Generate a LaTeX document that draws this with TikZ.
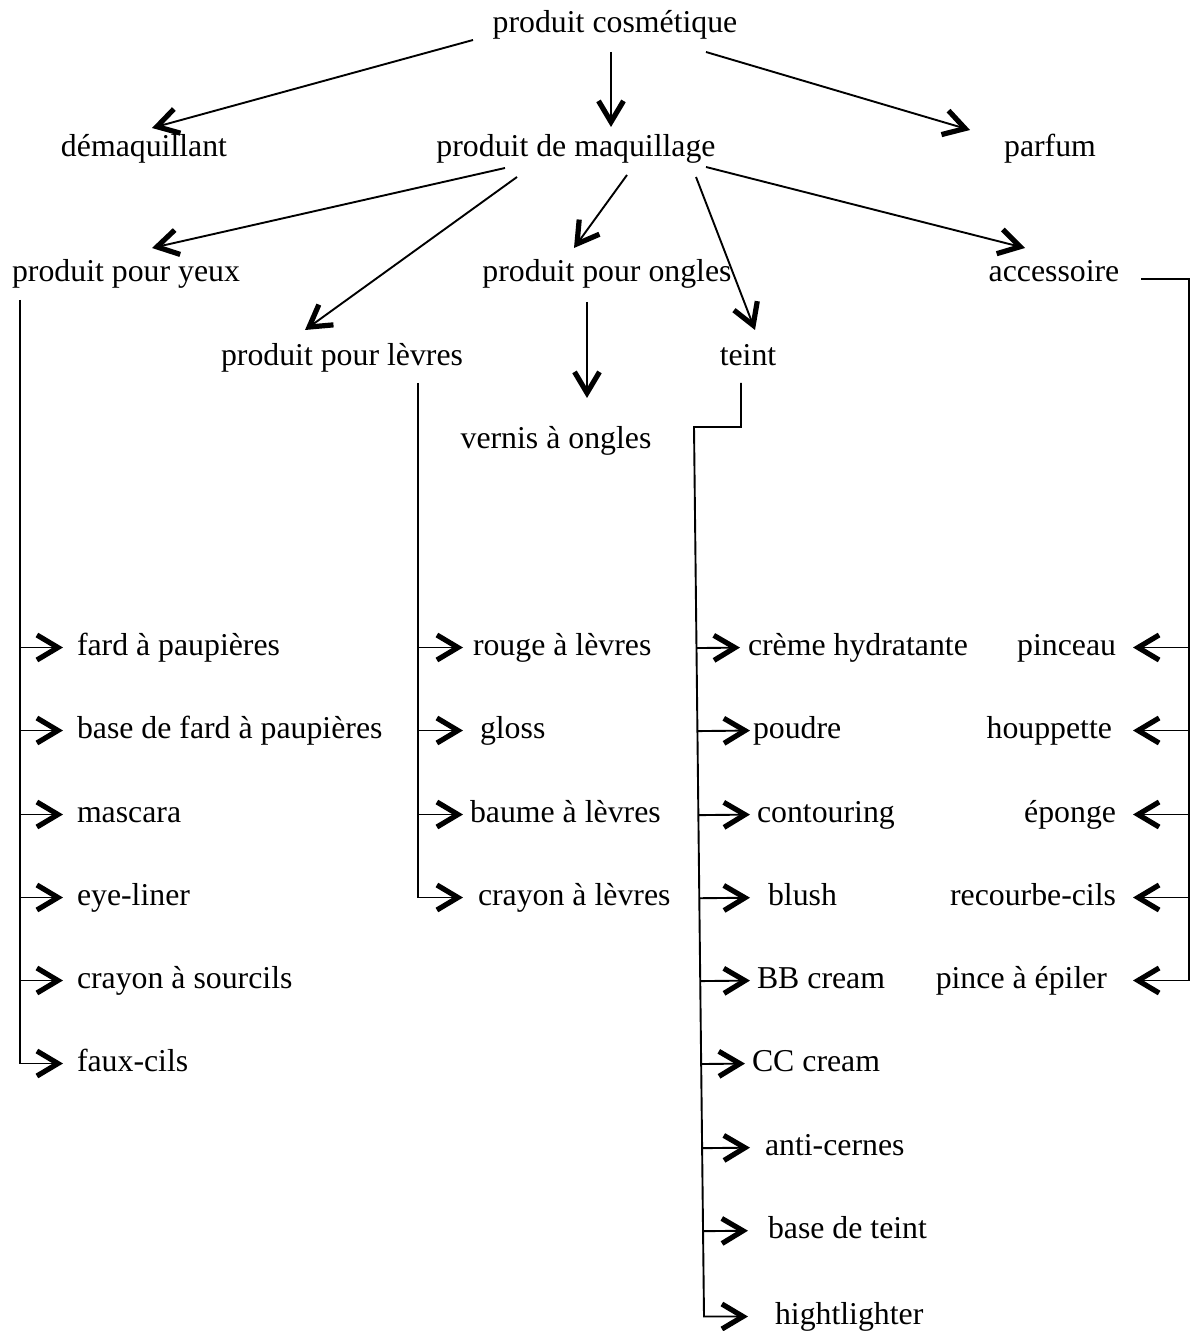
\documentclass[tikz,border=0pt]{standalone}
\usepackage{fontspec}
\setmainfont{Liberation Serif}
\usetikzlibrary{arrows.meta,calc}
\begin{document}
\begin{tikzpicture}[x=0.5pt,y=-0.5pt,
  lbl/.style={inner sep=0pt, outer sep=0pt, font=\fontsize{15.9pt}{19pt}\selectfont, text height=11pt, text depth=3.5pt},
  conn/.style={line width=0.95pt, line join=miter},
  arr/.style={conn, -{Straight Barb[length=10.5pt,width=12.5pt,line width=2.6pt]}}]
\path[use as bounding box] (0,0) rectangle (1190,1331);

% ---- top levels
\node[lbl, anchor=base] (cosm)   at (615,33)  {produit cosmétique};
\node[lbl, anchor=base] (demaq)  at (144,157) {démaquillant};
\node[lbl, anchor=base] (maq)    at (576,157) {produit de maquillage};
\node[lbl, anchor=base] (parfum) at (1050,157) {parfum};
\node[lbl, anchor=base] (yeux)   at (126,282) {produit pour yeux};
\node[lbl, anchor=base] (ongles) at (607,282) {produit pour ongles};
\node[lbl, anchor=base] (access) at (1054,282) {accessoire};
\node[lbl, anchor=base] (levres) at (342,366) {produit pour lèvres};
\node[lbl, anchor=base] (teint)  at (748,366) {teint};
\node[lbl, anchor=base] (vernis) at (556,448) {vernis à ongles};

% ---- yeux items
\node[lbl, anchor=base west] (y1) at (77,655)  {fard à paupières};
\node[lbl, anchor=base west] (y2) at (77,738)  {base de fard à paupières};
\node[lbl, anchor=base west] (y3) at (77,822)  {mascara};
\node[lbl, anchor=base west] (y4) at (77,905)  {eye-liner};
\node[lbl, anchor=base west] (y5) at (77,988)  {crayon à sourcils};
\node[lbl, anchor=base west] (y6) at (77,1071) {faux-cils};

% ---- lèvres items
\node[lbl, anchor=base west] (l1) at (473,655) {rouge à lèvres};
\node[lbl, anchor=base west] (l2) at (480,738) {gloss};
\node[lbl, anchor=base west] (l3) at (470,822) {baume à lèvres};
\node[lbl, anchor=base west] (l4) at (478,905) {crayon à lèvres};

% ---- teint items
\node[lbl, anchor=base west] (t1) at (748,655)  {crème hydratante};
\node[lbl, anchor=base west] (t2) at (753,738)  {poudre};
\node[lbl, anchor=base west] (t3) at (757,822)  {contouring};
\node[lbl, anchor=base west] (t4) at (768,905)  {blush};
\node[lbl, anchor=base west] (t5) at (757,988)  {BB cream};
\node[lbl, anchor=base west] (t6) at (752,1071) {CC cream};
\node[lbl, anchor=base west] (t7) at (765,1155) {anti-cernes};
\node[lbl, anchor=base west] (t8) at (768,1238) {base de teint};
\node[lbl, anchor=base west] (t9) at (775,1324) {hightlighter};

% ---- accessoire items
\node[lbl, anchor=base east] (a1) at (1116,655) {pinceau};
\node[lbl, anchor=base east] (a2) at (1112,738) {houppette};
\node[lbl, anchor=base east] (a3) at (1116,822) {éponge};
\node[lbl, anchor=base east] (a4) at (1116,905) {recourbe-cils};
\node[lbl, anchor=base east] (a5) at (1107,988) {pince à épiler};

% ---- top arrows
\draw[arr] ($(cosm.base)+(-142,7)$) -- ($(demaq.base)+(8,-29)$);
\draw[arr] ($(cosm.base)+(-4,19)$)  -- ($(maq.base)+(35,-30)$);
\draw[arr] ($(cosm.base)+(91,19)$)  -- ($(parfum.base)+(-80,-27)$);
\draw[arr] ($(maq.base)+(-71,11)$)  -- ($(yeux.base)+(26,-34)$);
\draw[arr] ($(maq.base)+(-59,20)$)  -- ($(levres.base)+(-37,-36)$);
\draw[arr] ($(maq.base)+(51,18)$)   -- ($(ongles.base)+(-33,-34)$);
\draw[arr] ($(maq.base)+(120,20)$)  -- ($(teint.base)+(7,-36)$);
\draw[arr] ($(maq.base)+(130,10)$)  -- ($(access.base)+(-29,-34)$);
\draw[arr] ($(ongles.base)+(-20,20)$) -- ($(vernis.base)+(31,-50)$);

% ---- yeux trunk
\coordinate (ytop) at ($(yeux.base)+(-106,18)$);
\draw[arr, shorten >=7pt] (ytop) |- (y6.west);
\foreach \n in {y1,y2,y3,y4,y5}
  \draw[arr, shorten >=7pt] (ytop |- \n.west) -- (\n.west);

% ---- lèvres trunk
\coordinate (ltop) at ($(levres.base)+(76,17)$);
\draw[arr, shorten >=7.5pt] (ltop) |- (l4.west);
\draw[arr, shorten >=5pt]   (ltop |- l1.west) -- (l1.west);
\draw[arr, shorten >=8.5pt] (ltop |- l2.west) -- (l2.west);
\draw[arr, shorten >=3.5pt] (ltop |- l3.west) -- (l3.west);

% ---- teint trunk
\coordinate (ttop) at ($(teint.base)+(-7,17)$);
\coordinate (tc)   at ($(ttop)+(0,44)$);
\coordinate (ta)   at ($(tc)+(-47,0)$);
\coordinate (tb)   at (704,0 |- t9.west);
\draw[arr, shorten >=13.5pt] (ttop) -- (tc) -- (ta) -- (tb) -- (t9.west);
\draw[arr, shorten >=4pt]  ($(ta)!(t1.west)!(tb)$) -- (t1.west);
\draw[arr, shorten >=1.5pt]($(ta)!(t2.west)!(tb)$) -- (t2.west);
\draw[arr, shorten >=3.5pt]($(ta)!(t3.west)!(tb)$) -- (t3.west);
\draw[arr, shorten >=9pt]  ($(ta)!(t4.west)!(tb)$) -- (t4.west);
\draw[arr, shorten >=3.5pt]($(ta)!(t5.west)!(tb)$) -- (t5.west);
\draw[arr, shorten >=3.5pt]($(ta)!(t6.west)!(tb)$) -- (t6.west);
\draw[arr, shorten >=7.5pt]($(ta)!(t7.west)!(tb)$) -- (t7.west);
\draw[arr, shorten >=10pt] ($(ta)!(t8.west)!(tb)$) -- (t8.west);

% ---- accessoire trunk
\coordinate (astart)  at ($(access.base)+(87,-3)$);
\coordinate (acorner) at ($(access.base)+(135,-3)$);
\draw[arr, shorten >=13pt] (astart) -- (acorner) |- (a5.east);
\draw[arr, shorten >=8.5pt]  (acorner |- a1.east) -- (a1.east);
\draw[arr, shorten >=10.5pt] (acorner |- a2.east) -- (a2.east);
\draw[arr, shorten >=8.5pt]  (acorner |- a3.east) -- (a3.east);
\draw[arr, shorten >=8.5pt]  (acorner |- a4.east) -- (a4.east);
\end{tikzpicture}
\end{document}
